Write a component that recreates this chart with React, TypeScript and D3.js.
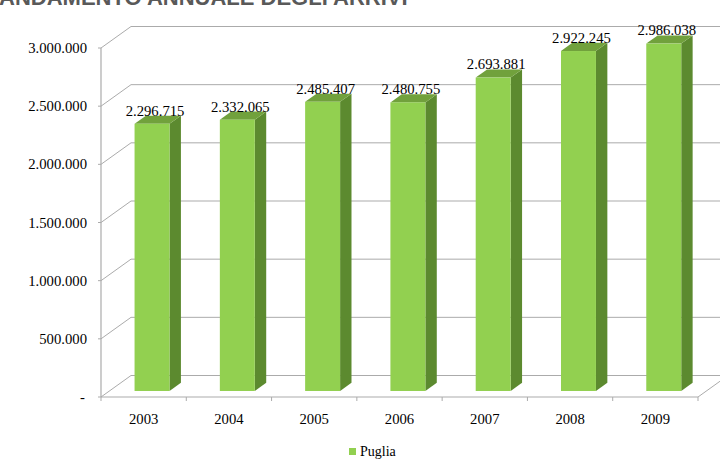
import React from "react";
import * as d3 from "d3";

const years = ["2003", "2004", "2005", "2006", "2007", "2008", "2009"];
const values = [2296715, 2332065, 2485407, 2480755, 2693881, 2922245, 2986038];
const yTicks = [0, 500000, 1000000, 1500000, 2000000, 2500000, 3000000];
const seriesName = "Puglia";
const title = "ANDAMENTO ANNUALE DEGLI ARRIVI";

const fmt = (v: number) => (v === 0 ? "-" : d3.format(",")(v).replace(/,/g, "."));

export default function App() {
  const W = 720, H = 459;
  const left = 101, right = 698, bottom = 397, top = 48;
  const depthX = 30, depthY = -21.5;
  const bandDepth0 = 0.28, bandDepth1 = 0.66;

  const x = d3.scaleBand<string>().domain(years).range([left, right]).padding(0);
  const y = d3.scaleLinear().domain([0, 3000000]).range([bottom, top]);
  const bw = x.bandwidth() * 0.41;

  const grid = "#ABABAB";
  const front = "#92D050";
  const topC = "#71A13C";
  const side = "#5C8A2F";
  const serifStyle = { fontFamily: '"Liberation Serif", "DejaVu Serif", "Times New Roman", serif' };
  const sansStyle = { fontFamily: '"Liberation Sans", Arial, sans-serif' };

  const ox0 = bandDepth0 * depthX, oy0 = bandDepth0 * depthY;
  const ox1 = bandDepth1 * depthX, oy1 = bandDepth1 * depthY;

  return (
    <svg width={W} height={H} style={{ position: "fixed", left: 0, top: 0, background: "#fff" }}>
      <text x={-1} y={5} style={sansStyle} fontWeight="bold" fontSize={22} fill="#595959">{title}</text>

      {/* gridlines: left wall diagonals + back wall */}
      {yTicks.map((t) => (
        <g key={t}>
          <line x1={left} y1={y(t)} x2={left + depthX} y2={y(t) + depthY} stroke={grid} strokeWidth={1} />
          <line x1={left + depthX} y1={y(t) + depthY} x2={right + depthX} y2={y(t) + depthY} stroke={grid} strokeWidth={1} />
          <line x1={left - 3} y1={y(t)} x2={left} y2={y(t)} stroke={grid} strokeWidth={1} />
          <text x={t === 0 ? 85 : 87} y={y(t) + 5} textAnchor="end" style={serifStyle} fontSize={14.7} fill="#000">{fmt(t)}</text>
        </g>
      ))}
      {/* floor right edge */}
      <line x1={right} y1={bottom} x2={right + depthX} y2={bottom + depthY} stroke={grid} strokeWidth={1} />
      {/* y axis */}
      <line x1={left} y1={top} x2={left} y2={bottom} stroke={grid} strokeWidth={1.2} />
      {/* x axis */}
      <line x1={left} y1={bottom} x2={right} y2={bottom} stroke={grid} strokeWidth={1.2} />
      {years.map((yr) => (
        <line key={"tk" + yr} x1={x(yr)!} y1={bottom} x2={x(yr)!} y2={bottom + 4} stroke={grid} strokeWidth={1} />
      ))}
      <line x1={right} y1={bottom} x2={right} y2={bottom + 4} stroke={grid} strokeWidth={1} />

      {/* bars */}
      {years.map((yr, i) => {
        const v = values[i];
        const cx = x(yr)! + x.bandwidth() / 2;
        const fx0 = cx - bw / 2 + ox0, fx1 = cx + bw / 2 + ox0;
        const fy0 = y(0) + oy0, fy1 = y(v) + oy0;
        const dx = ox1 - ox0, dy = oy1 - oy0;
        return (
          <g key={yr}>
            <path d={`M${fx1},${fy0} L${fx1 + dx},${fy0 + dy} L${fx1 + dx},${fy1 + dy} L${fx1},${fy1} Z`} fill={side} />
            <path d={`M${fx0},${fy1} L${fx1},${fy1} L${fx1 + dx},${fy1 + dy} L${fx0 + dx},${fy1 + dy} Z`} fill={topC} />
            <rect x={fx0} y={fy1} width={fx1 - fx0} height={fy0 - fy1} fill={front} />
            <text x={cx + ox0 + 3} y={fy1 + dy} textAnchor="middle" style={serifStyle} fontSize={14.7} fill="#000">{fmt(v)}</text>
            <text x={cx} y={424} textAnchor="middle" style={serifStyle} fontSize={14.7} fill="#000">{yr}</text>
          </g>
        );
      })}

      {/* legend */}
      <rect x={349} y={448} width={7} height={7} fill={front} />
      <text x={360} y={456} style={serifStyle} fontSize={14} fill="#000">{seriesName}</text>
    </svg>
  );
}
